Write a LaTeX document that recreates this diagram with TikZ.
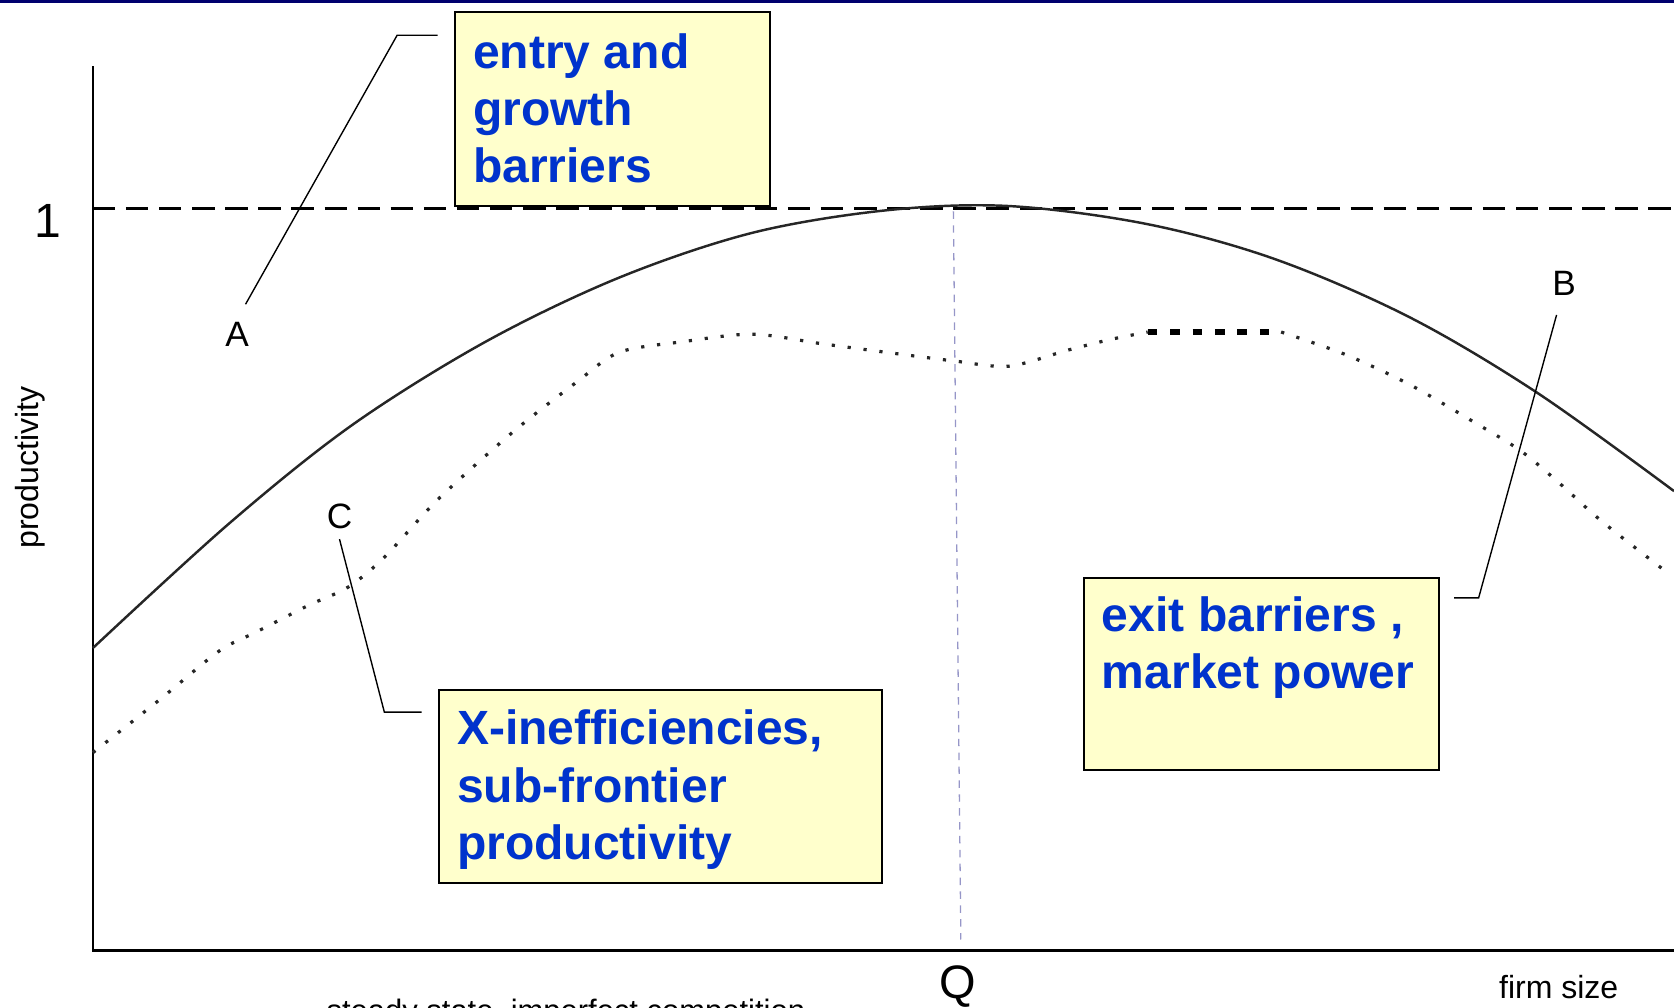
\documentclass[tikz,border=0pt]{standalone}
\usepackage{fontspec}
\setmainfont{Liberation Sans}
\definecolor{boxfill}{RGB}{255,255,204}
\definecolor{boxblue}{RGB}{0,51,204}
\definecolor{navybar}{RGB}{0,0,110}
\definecolor{qcol}{RGB}{150,150,200}
\begin{document}
\begin{tikzpicture}[x=1pt,y=-1pt,
  box/.style={draw=black, line width=2pt, fill=boxfill, inner sep=0pt, anchor=north west},
  boxtext/.style={text=boxblue, font=\fontsize{45}{53.5}\selectfont\bfseries, align=left, anchor=north west, inner sep=0pt},
  lab/.style={font=\fontsize{33}{36}\selectfont, inner sep=0pt},
  axis/.style={line width=2.5pt, black},
  leader/.style={line width=1.3pt, black},
  frontier/.style={line width=2.3pt, black!85},
  subfront/.style={line width=3pt, black!85, dash pattern=on 3pt off 12pt},
  thickdash/.style={line width=5pt, black, dash pattern=on 9pt off 12pt},
  onedash/.style={line width=2.6pt, black, dash pattern=on 21pt off 10pt},
  qline/.style={line width=1.2pt, qcol, dash pattern=on 7pt off 6pt}
]
\useasboundingbox (0,0) rectangle (1568,944);
\fill[navybar] (0,0) rectangle (1568,3);

% axes
\coordinate (ytop) at (87,62);
\coordinate (origin) at (87,890);
\coordinate (xend) at (1568,890);
\draw[axis] (ytop) -- (origin) -- (xend);

% level 1
\coordinate (oneL) at (87,195);
\coordinate (oneR) at (1568,195);
\draw[onedash] (oneL) -- (oneR);
\node[font=\fontsize{45}{50}\selectfont, inner sep=0pt] (one) at (45,207) {1};

% Q line
\coordinate (qtop) at (893,198);
\coordinate (qbot) at (900,880);
\draw[qline] (qtop) -- (qbot);

% frontier curve
\draw[frontier] plot[smooth, tension=0.55] coordinates {(87,607) (215,490) (330,398) (455,320) (580,260) (705,218) (830,197) (945,193) (1075,210) (1195,243) (1320,297) (1440,368) (1568,460)};

% sub-frontier dotted curve
\draw[subfront] plot[smooth, tension=0.5] coordinates {(87,705) (150,655) (205,610) (240,592) (289,567) (326,550) (360,522) (410,468) (480,405) (540,358) (580,330) (640,320) (705,313) (770,322) (830,330) (893,338) (945,343) (1000,328) (1040,318) (1075,311)};
\draw[thickdash] (1075,311) -- (1200,311);
\draw[subfront] plot[smooth, tension=0.5] coordinates {(1200,311) (1260,332) (1320,360) (1380,395) (1424,422) (1460,452) (1500,488) (1560,535)};

% boxes
\node[box, minimum width=295pt, minimum height=182pt] (entrybox) at (425,10) {};
\node[boxtext] (entrytext) at (443,31) {entry and\\growth\\barriers};

\node[box, minimum width=333pt, minimum height=180pt] (exitbox) at (1014,540) {};
\node[boxtext] (exittext) at (1032,559) {exit barriers ,\\market power};

\node[box, minimum width=415pt, minimum height=181pt] (xbox) at (410,645) {};
\node[boxtext] (xtext) at (428,665) {X-inefficiencies,\\sub-frontier\\productivity};

% labels and leaders
\node[lab] (labA) at (222,313) {A};
\coordinate (Atip) at (230,285);
\coordinate (Abend) at (372,33);
\coordinate (Aend) at (410,33);
\draw[leader] (Atip) -- (Abend) -- (Aend);

\node[lab] (labB) at (1465,265) {B};
\coordinate (Btip) at (1458,295);
\coordinate (Bbend) at (1385,560);
\coordinate (Bend) at (1362,560);
\draw[leader] (Btip) -- (Bbend) -- (Bend);

\node[lab] (labC) at (318,484) {C};
\coordinate (Ctip) at (318,505);
\coordinate (Cbend) at (360,667);
\coordinate (Cend) at (395,667);
\draw[leader] (Ctip) -- (Cbend) -- (Cend);

% axis texts
\node[font=\fontsize{30}{32}\selectfont, rotate=90, inner sep=0pt] (ylab) at (28,438) {productivity};
\node[font=\fontsize{44}{48}\selectfont, inner sep=0pt] (Q) at (897,924) {Q};
\node[font=\fontsize{30}{32}\selectfont, inner sep=0pt] (firmsize) at (1460,925) {firm size};
\node[font=\fontsize{29}{32}\selectfont, anchor=base, inner sep=0pt] (steady) at (530,957) {steady state, imperfect competition};
\end{tikzpicture}
\end{document}
